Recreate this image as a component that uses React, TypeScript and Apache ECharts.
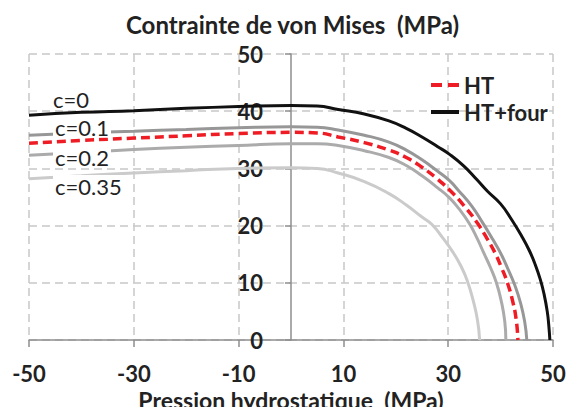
import React, { useEffect, useRef } from "react";
import * as echarts from "echarts";

const X_MIN = -50;
const X_MAX = 50;
const X_STEP = 20;
const Y_MIN = 0;
const Y_MAX = 50;
const Y_STEP = 10;

const TITLE = "Contrainte de von Mises  (MPa)";
const X_NAME = "Pression hydrostatique  (MPa)";

const LEGEND_NAMES = ["HT", "HT+four"];

// HT+four, c = 0 (black)
const HT_FOUR_C0: [number, number][] = [
  [-50, 39.3], [-40, 39.8], [-30, 40.1], [-20, 40.5], [-10, 40.8], [0, 41.0],
  [5, 40.9], [9, 40.3], [14, 39.5], [18.7, 38.3], [22, 37.0], [25, 35.5],
  [28, 33.8], [30.2, 32.5], [33, 30.4], [35.5, 28.0], [37.5, 26.0], [40, 23.8],
  [42, 21.2], [44, 18.2], [45.5, 15.6], [46.6, 13.2], [47.6, 10.5],
  [48.3, 8.0], [48.9, 5.0], [49.2, 2.5], [49.4, 0],
];

// c = 0.1 (mid grey)
const C01: [number, number][] = [
  [-50, 35.8], [-40, 36.2], [-30, 36.5], [-20, 36.8], [-10, 37.1], [0, 37.3],
  [5, 37.2], [9, 36.7], [14, 35.8], [18.7, 34.6], [22, 33.2], [25, 31.5],
  [28, 29.5], [30.2, 27.9], [32, 26.1], [34.5, 23.4], [36.5, 20.6],
  [38.5, 17.6], [40, 15.2], [41.5, 12.2], [42.7, 9.6], [43.8, 6.5],
  [44.6, 3.2], [45, 0],
];

// HT (red dashed)
const HT: [number, number][] = [
  [-50, 34.4], [-40, 34.9], [-30, 35.3], [-20, 35.7], [-10, 36.1], [0, 36.3],
  [5, 36.2], [9, 35.5], [14, 34.5], [18.7, 33.2], [22, 31.9], [25, 30.2],
  [28, 28.1], [30.5, 26.0], [33, 23.5], [35.6, 20.4], [37.5, 17.6],
  [38.9, 15.3], [40.2, 12.6], [41.3, 10.0], [42.3, 6.8], [43.0, 3.4],
  [43.3, 0],
];

// c = 0.2 (grey)
const C02: [number, number][] = [
  [-50, 32.3], [-40, 32.8], [-30, 33.3], [-20, 33.7], [-10, 34.0], [0, 34.3],
  [5, 34.3], [9, 34.0], [14, 33.1], [18.7, 31.9], [22, 30.5], [25, 28.7],
  [28, 26.6], [30.2, 24.9], [32, 23.0], [34, 20.4], [35.5, 17.8],
  [36.7, 15.4], [38, 12.8], [39.2, 10.0], [40.2, 6.5], [40.8, 3.2], [41, 0],
];

// c = 0.35 (light grey)
const C035: [number, number][] = [
  [-50, 28.2], [-40, 28.7], [-30, 29.2], [-20, 29.6], [-10, 30.0], [0, 30.1],
  [5, 30.0], [9, 29.2], [14, 27.7], [18.7, 25.6], [22, 23.6], [25, 21.5],
  [26.9, 20.2], [29, 17.8], [30.8, 15.5], [32.5, 12.8], [33.7, 10.2],
  [34.8, 6.8], [35.6, 3.4], [36, 0],
];

const C_LABELS = ["c=0", "c=0.1", "c=0.2", "c=0.35"];

const FONT = "Lato, 'Open Sans', sans-serif";

const GRID_LEFT = 29;
const GRID_RIGHT = 15;
const CHART_W = 568;

export default function App() {
  const ref = useRef<HTMLDivElement>(null);

  useEffect(() => {
    if (!ref.current) return;
    const chart = echarts.init(ref.current, null, { renderer: "svg" });

    const gridLine = { show: true, lineStyle: { color: "#c8c8c8", width: 1.5, type: [8, 5] } };
    const axisLine = { lineStyle: { color: "#8e8e8e", width: 1.5 } };
    const cLabelStyle = {
      fontFamily: FONT,
      fontSize: 22,
      fill: "#222",
      verticalAlign: "middle",
      align: "left",
      lineHeight: 18,
    };

    // offset the y axis so that it sits on x = 0 (axis, ticks and labels together)
    const plotW = CHART_W - GRID_LEFT - GRID_RIGHT;
    const zeroOffset = -((0 - X_MIN) / (X_MAX - X_MIN)) * plotW;

    chart.setOption({
      animation: false,
      backgroundColor: "#ffffff",
      textStyle: { fontFamily: FONT },
      title: {
        text: TITLE,
        left: 121,
        top: 7,
        textStyle: { fontFamily: FONT, fontSize: 24, fontWeight: "bold", color: "#222" },
      },
      grid: {
        left: GRID_LEFT,
        right: GRID_RIGHT,
        top: 54,
        bottom: 67,
        containLabel: false,
        outerBoundsMode: "none",
      },
      legend: {
        data: [
          { name: LEGEND_NAMES[0], icon: "path://M0,0H11V4H0Z M17,0H28V4H17Z" },
          { name: LEGEND_NAMES[1], icon: "path://M0,0H28V4H0Z" },
        ],
        orient: "vertical",
        left: 426,
        top: 69,
        itemWidth: 28,
        itemHeight: 4,
        itemGap: 5,
        textStyle: { fontFamily: FONT, fontSize: 22, lineHeight: 22, fontWeight: "bold", color: "#222" },
      },
      xAxis: {
        type: "value",
        min: X_MIN,
        max: X_MAX,
        interval: X_STEP,
        name: X_NAME,
        nameLocation: "middle",
        nameGap: 41,
        nameTextStyle: { fontFamily: FONT, fontSize: 23, fontWeight: "bold", color: "#222", verticalAlign: "top" },
        axisLine,
        axisTick: { show: true, length: 7, lineStyle: { color: "#8e8e8e", width: 1.5 } },
        axisLabel: { margin: 22, fontFamily: FONT, fontSize: 22, fontWeight: "bold", color: "#222" },
        splitLine: gridLine,
      },
      yAxis: {
        type: "value",
        position: "left",
        offset: zeroOffset,
        min: Y_MIN,
        max: Y_MAX,
        interval: Y_STEP,
        axisLine: { ...axisLine, onZero: false },
        axisTick: { show: true, length: 6, lineStyle: { color: "#8e8e8e", width: 1.5 } },
        axisLabel: { margin: 28, fontFamily: FONT, fontSize: 22, fontWeight: "bold", color: "#222" },
        splitLine: gridLine,
      },
      series: [
        {
          name: "c0.35",
          type: "line",
          data: C035,
          symbol: "none",
          smooth: true,
          lineStyle: { color: "#cbcbcb", width: 3 },
          z: 2,
        },
        {
          name: "c0.2",
          type: "line",
          data: C02,
          symbol: "none",
          smooth: true,
          lineStyle: { color: "#ababab", width: 3 },
          z: 2,
        },
        {
          name: "c0.1",
          type: "line",
          data: C01,
          symbol: "none",
          smooth: true,
          lineStyle: { color: "#979797", width: 3 },
          z: 2,
        },
        {
          name: "HT",
          type: "line",
          data: HT,
          symbol: "none",
          smooth: true,
          itemStyle: { color: "#ee1c24" },
          lineStyle: { color: "#ee1c24", width: 3.5, type: [9, 5] },
          z: 3,
        },
        {
          name: "HT+four",
          type: "line",
          data: HT_FOUR_C0,
          symbol: "none",
          smooth: true,
          itemStyle: { color: "#111111" },
          lineStyle: { color: "#111111", width: 3 },
          z: 4,
        },
      ],
      graphic: [
        { type: "text", x: 53, y: 99, z: 100, style: { ...cLabelStyle, text: C_LABELS[0] } },
        {
          type: "text", x: 53, y: 127.5, z: 100,
          style: { ...cLabelStyle, text: C_LABELS[1], backgroundColor: "#fff", padding: [1, 2, 1, 2] },
        },
        {
          type: "text", x: 53, y: 157.5, z: 100,
          style: { ...cLabelStyle, text: C_LABELS[2], backgroundColor: "#fff", padding: [1, 2, 0, 2] },
        },
        {
          type: "text", x: 53, y: 186, z: 100,
          style: { ...cLabelStyle, text: C_LABELS[3], backgroundColor: "#fff", padding: [3, 2, 1, 2] },
        },
      ],
    });

    return () => chart.dispose();
  }, []);

  return (
    <div
      ref={ref}
      style={{ position: "fixed", left: 0, top: 0, width: 568, height: 407, background: "#fff" }}
    />
  );
}
